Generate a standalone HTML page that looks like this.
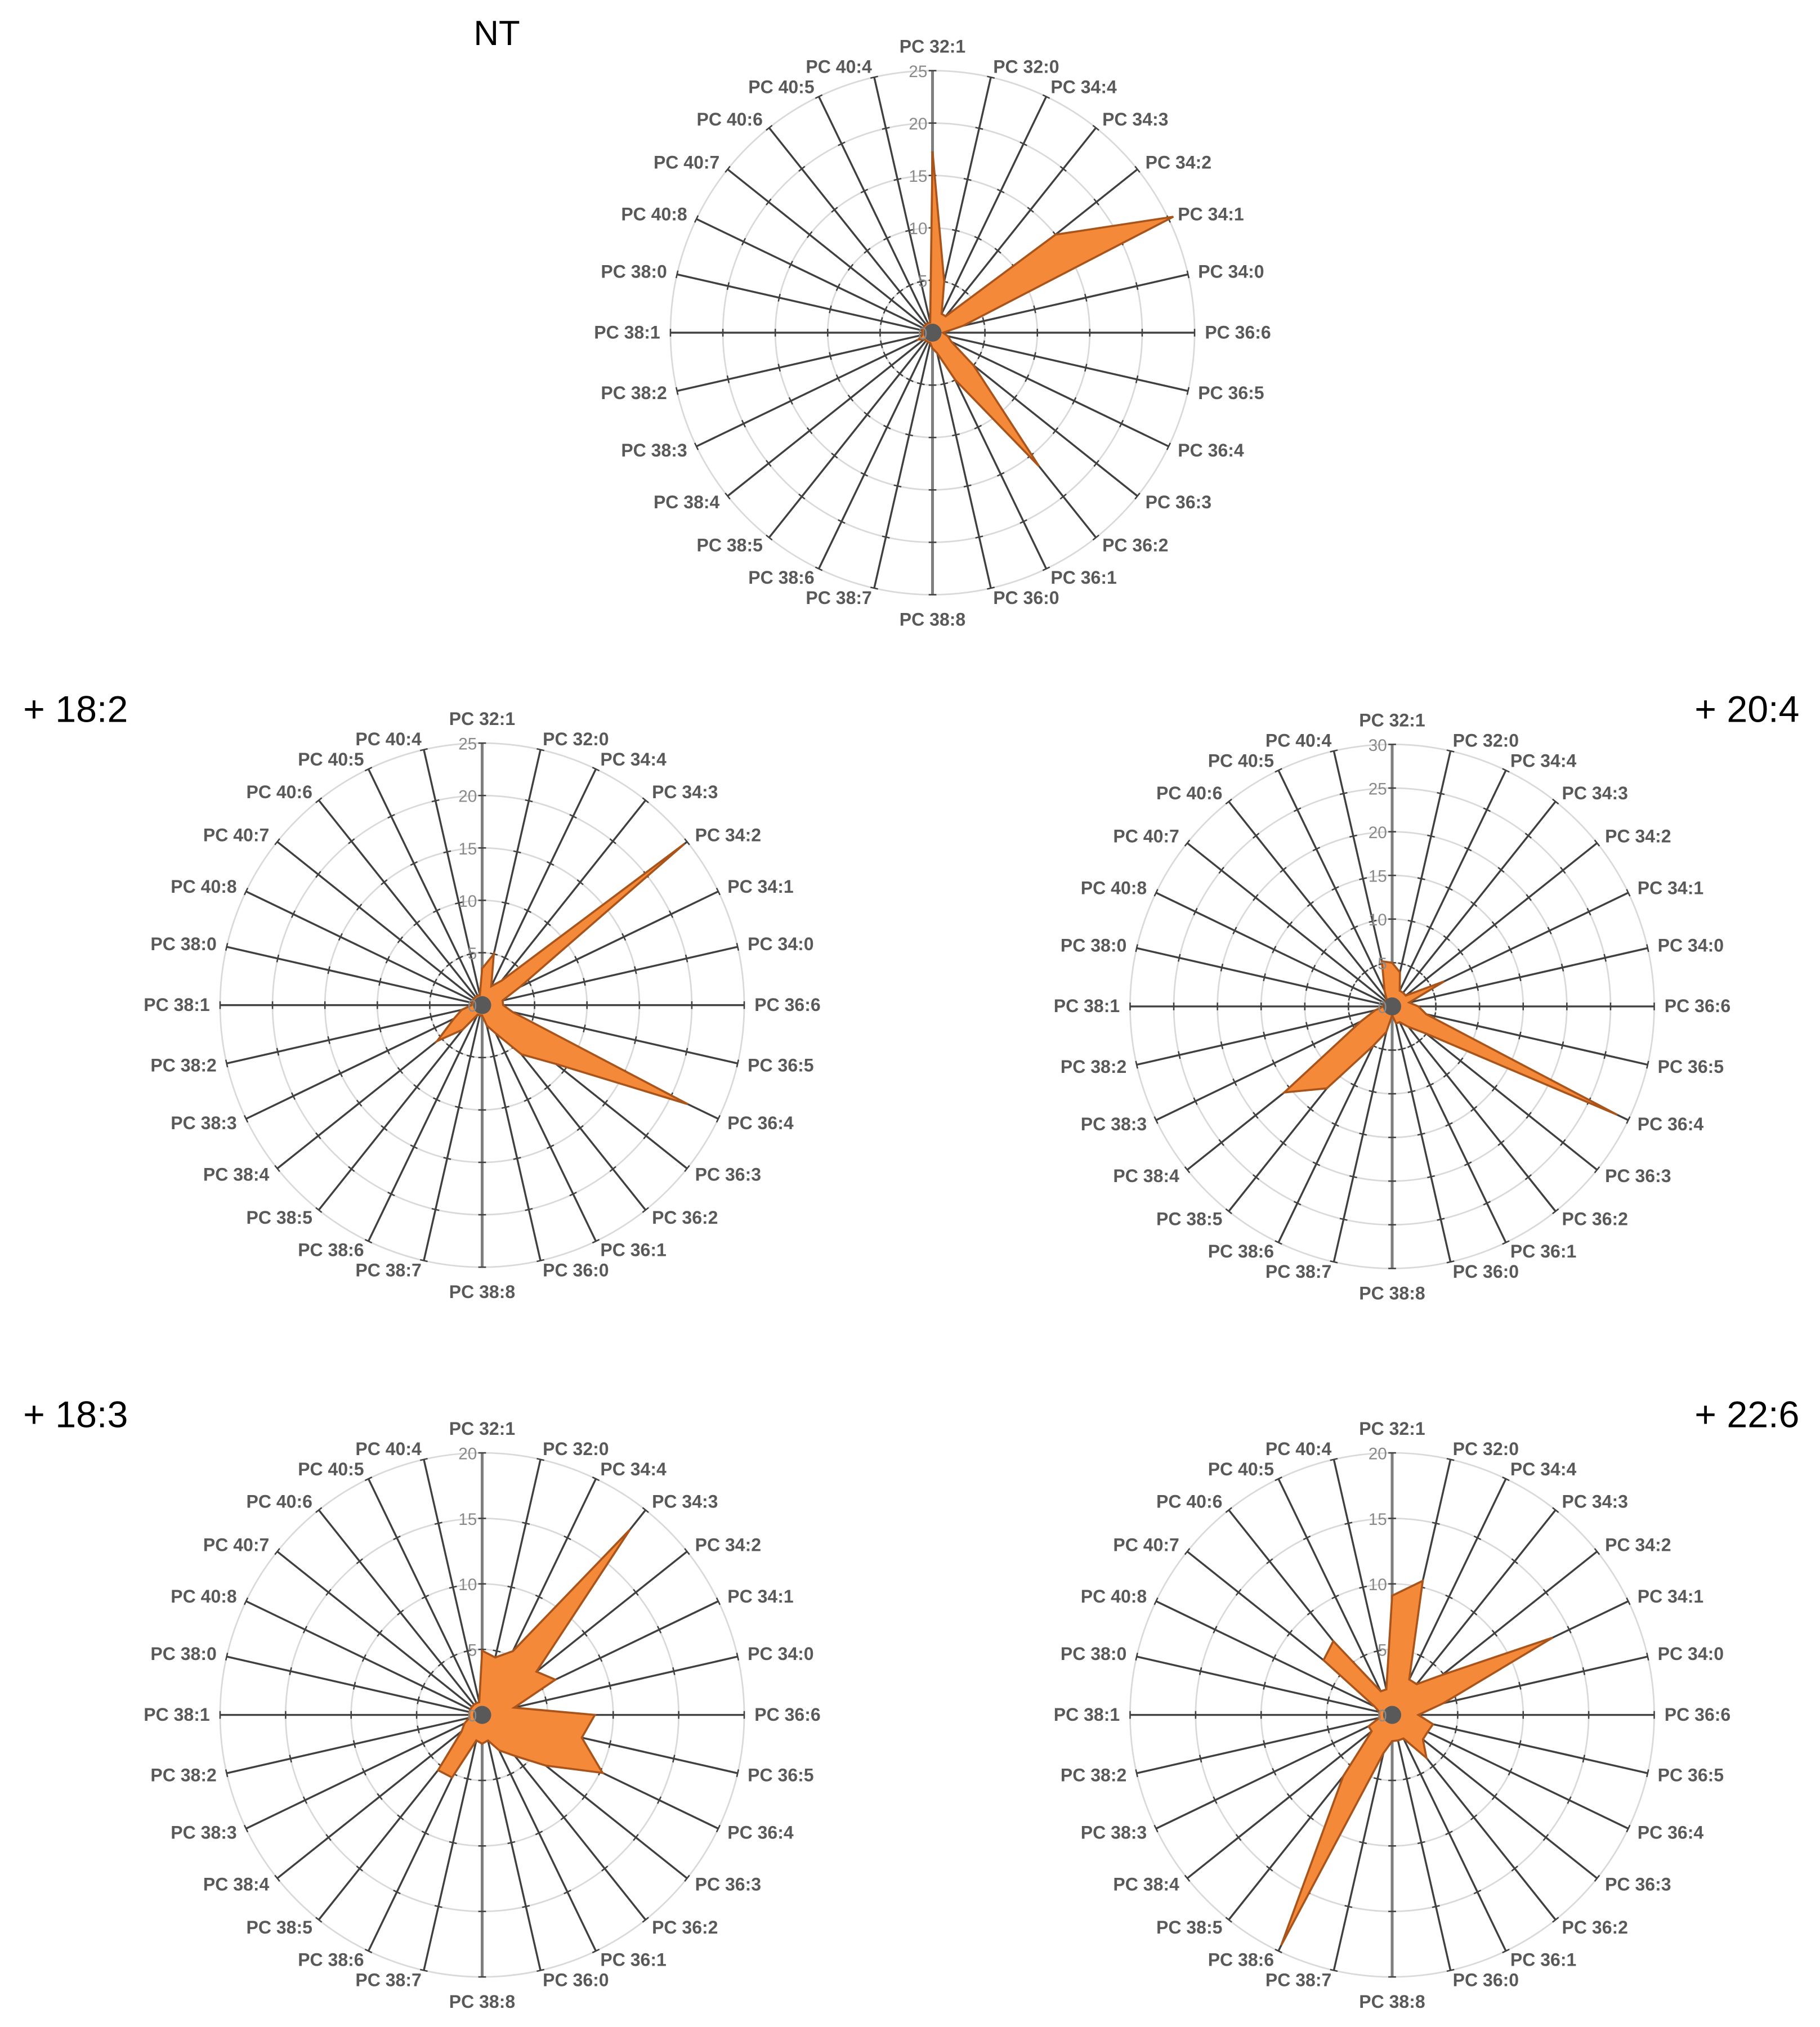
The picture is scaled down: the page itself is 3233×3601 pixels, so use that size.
<!DOCTYPE html>
<html><head><meta charset="utf-8"><title>PC radar charts</title>
<style>
html,body{margin:0;padding:0;background:#fff;}
svg{display:block;}
</style></head>
<body>
<svg id="root" xmlns="http://www.w3.org/2000/svg" width="3233" height="3601" viewBox="0 0 1414 1575" preserveAspectRatio="none" font-family="'Liberation Sans', sans-serif">
<rect x="0" y="0" width="1414" height="1575" fill="#fff"/>
<text x="368" y="35" font-size="27">NT</text>
<text x="18" y="561" font-size="29">+ 18:2</text>
<text x="1398" y="561" font-size="29" text-anchor="end">+ 20:4</text>
<text x="18" y="1109" font-size="29">+ 18:3</text>
<text x="1398" y="1109" font-size="29" text-anchor="end">+ 22:6</text>
</svg>
<script>
const categories = ["PC 32:1","PC 32:0","PC 34:4","PC 34:3","PC 34:2","PC 34:1","PC 34:0","PC 36:6","PC 36:5","PC 36:4","PC 36:3","PC 36:2","PC 36:1","PC 36:0","PC 38:8","PC 38:7","PC 38:6","PC 38:5","PC 38:4","PC 38:3","PC 38:2","PC 38:1","PC 38:0","PC 40:8","PC 40:7","PC 40:6","PC 40:5","PC 40:4"];
const valuesNT   = [17.3,5,2,2,15,25.5,3,1,1.5,2,5,16.3,5,2,1.5,1,1,1,1,1.5,1,1,1,1,1,1,1,1];
const values182  = [3.5,5,2,3,24.7,4,2,2,3,21.8,9,6,3,2,1,1,1,3,5.5,3,2,1,1,1,1,1,1,1];
const values204  = [5,4,2,2,2,6.6,2,3,4,28.6,5,3,2,2,1,3,5,12,15.8,4,2,1,1,1,1,1,2,5.3];
const values183  = [4.9,4.5,5.4,18.1,5.3,6.2,2.5,8.6,7.8,10.2,6.2,4,3,2,2.2,2,5.3,5.4,2,1.5,1,1,1,1,1,1,1,1];
const values226  = [9.1,10.5,3,3,4.9,13.6,4,2,3.2,3,3,4.2,2,2,2,3,19.5,6,2,2,1,1,1,1.5,6.7,7.2,2,2];
const ticksNT  = [0,5,10,15,20,25];
const ticks182 = [0,5,10,15,20,25];
const ticks204 = [0,5,10,15,20,25,30];
const ticks183 = [0,5,10,15,20];
const ticks226 = [0,5,10,15,20];

const NS = "http://www.w3.org/2000/svg";
const root = document.getElementById('root');
function mk(tag, attrs, parent){
  const e = document.createElementNS(NS, tag);
  for (const k in attrs) e.setAttribute(k, attrs[k]);
  (parent||root).appendChild(e);
  return e;
}
function drawRadar(name, cx, cy, R, ticks, values){
  const maxV = ticks[ticks.length-1];
  const n = categories.length;
  const g = mk('g', {});
  
  
  const ang = i => i*2*Math.PI/n;
  const pt = (i, v) => [cx + Math.sin(ang(i))*v/maxV*R, cy - Math.cos(ang(i))*v/maxV*R];
  ticks.forEach(t => {
    if (t === 0) return;
    const c = mk('circle', {cx:cx, cy:cy, r:t/maxV*R, fill:'none', stroke:'#d9d9d9', 'stroke-width':1.2}, g);
    
    
  });
  for (let i=0;i<n;i++){
    const [x2,y2] = pt(i, maxV);
    const vert = (i===0 || i===n/2);
    const l = mk('line', {x1:cx, y1:cy, x2:x2, y2:y2, stroke: vert ? '#7f7f7f' : '#404040', 'stroke-width': vert ? 2.2 : 1.5}, g);
    
    
    ticks.forEach(t => {
      if (t===0) return;
      const [tx,ty] = pt(i, t);
      const a = ang(i), d = 3;
      const tk = mk('line', {x1:tx-Math.cos(a)*d, y1:ty-Math.sin(a)*d, x2:tx+Math.cos(a)*d, y2:ty+Math.sin(a)*d, stroke:'#404040', 'stroke-width':1.1}, g);
      
      
    });
  }
  const pts = values.map((v,i) => pt(i, v).map(q=>q.toFixed(2)).join(',')).join(' ');
  const poly = mk('polygon', {points:pts, fill:'#f5893a', stroke:'#a9541a', 'stroke-width':1.6, 'stroke-linejoin':'miter'}, g);
  
  
  const cb = mk('circle', {cx:cx, cy:cy, r:7, fill:'#595959'}, g);
  
  
  ticks.forEach(t => {
    const tl = mk('text', {x:cx-4, y:cy - t/maxV*R + 5, 'font-size':13, fill:'#8a8a8a', 'text-anchor':'end'}, g);
    tl.textContent = t;
    
    
  });
  categories.forEach((c,i) => {
    const a = ang(i), s = Math.sin(a), co = Math.cos(a);
    const rr = R + 8;
    let x = cx + s*rr, y = cy - co*rr;
    let anchor = 'middle';
    if (s > 0.1) anchor = 'start'; else if (s < -0.1) anchor = 'end';
    let dy = 4.5;
    if (i === 0) dy = -6;
    if (i === n/2) dy = 16;
    const t = mk('text', {x:x.toFixed(1), y:(y+dy).toFixed(1), 'font-size':14, 'font-weight':'bold', fill:'#595959', 'text-anchor':anchor}, g);
    t.textContent = c;
    
    
  });
}
drawRadar('radar-nt', 724.5, 258.5, 203.6, ticksNT, valuesNT);
drawRadar('radar-18-2', 374.6, 781, 203.6, ticks182, values182);
drawRadar('radar-20-4', 1081.6, 782, 203.6, ticks204, values204);
drawRadar('radar-18-3', 374.6, 1332.5, 203.6, ticks183, values183);
drawRadar('radar-22-6', 1081.6, 1332.5, 203.6, ticks226, values226);
</script>
</body></html>
